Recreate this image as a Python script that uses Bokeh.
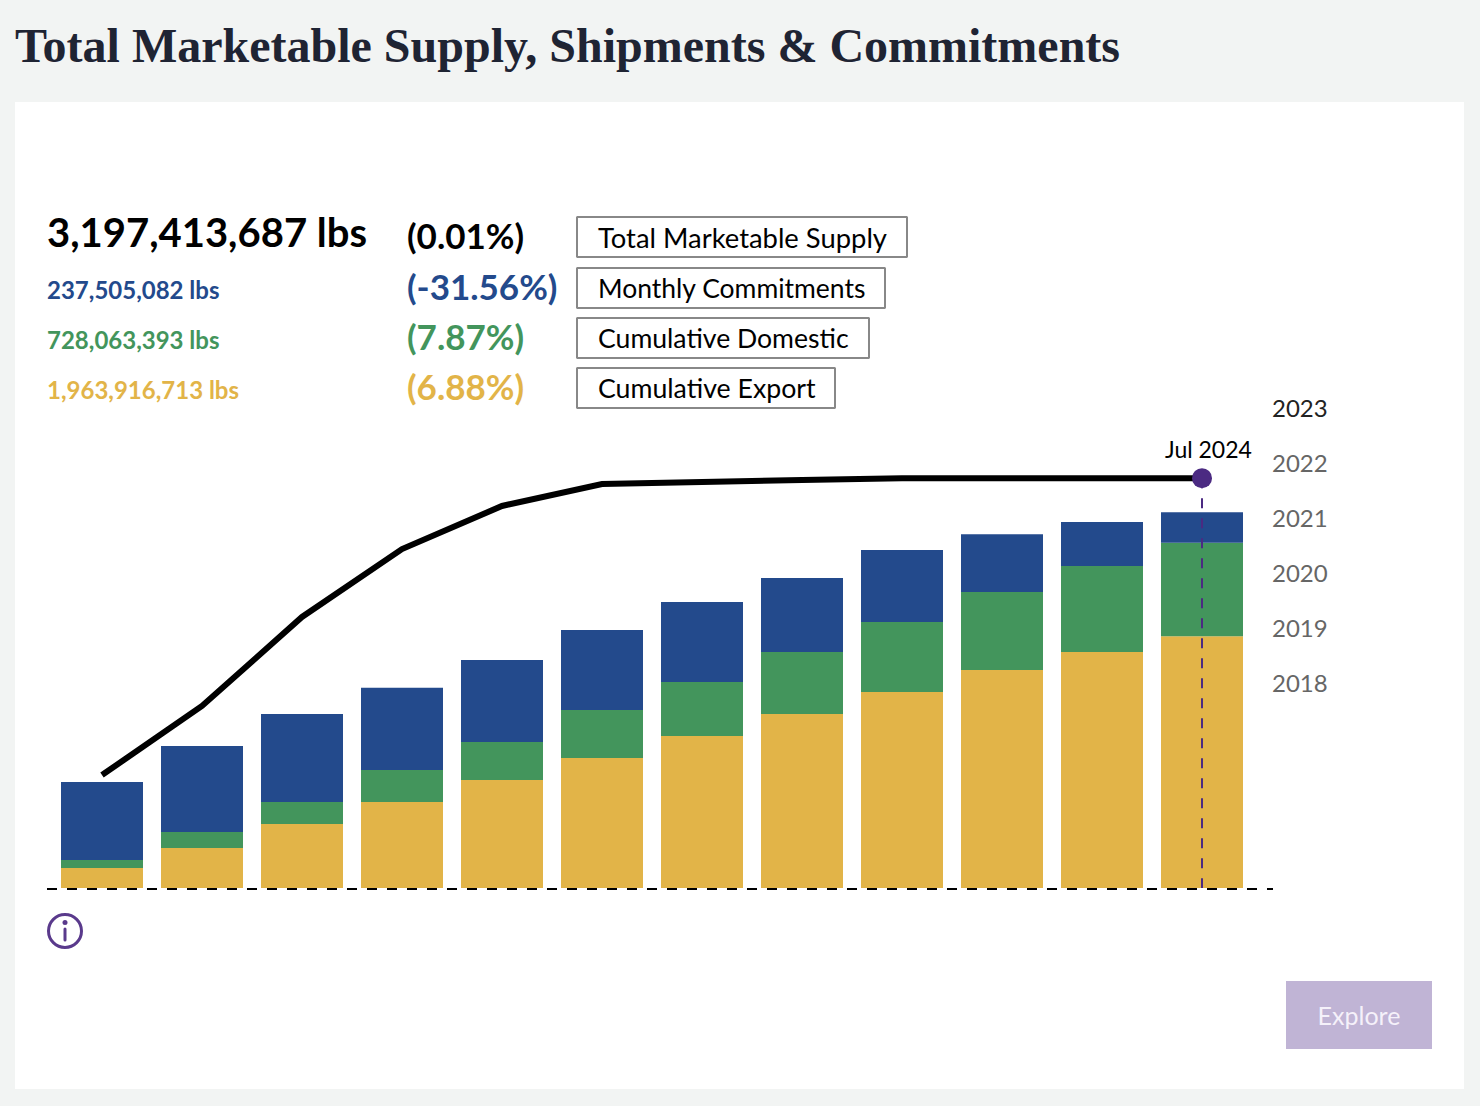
from bokeh.embed import file_html
from bokeh.models import Label, Range1d
from bokeh.plotting import figure
from bokeh.resources import INLINE

# ---- data (million lbs, one bar per month up to Jul 2024) ----
months = ["Aug 2023", "Sep 2023", "Oct 2023", "Nov 2023", "Dec 2023", "Jan 2024",
          "Feb 2024", "Mar 2024", "Apr 2024", "May 2024", "Jun 2024", "Jul 2024"]
export = [156, 312, 499, 671, 842, 1014, 1186, 1357, 1529, 1700, 1841, 1964]
domestic = [62, 125, 172, 250, 296, 374, 421, 484, 546, 608, 671, 728]
commitments = [608, 671, 686, 640, 640, 624, 624, 577, 562, 452, 343, 238]
supply = [881, 1420, 2114, 2644, 2980, 3151, 3167, 3182, 3196, 3197, 3197, 3197]
years = ["2023", "2022", "2021", "2020", "2019", "2018"]
title = "Total Marketable Supply, Shipments & Commitments"
summary_values = ["3,197,413,687 lbs", "237,505,082 lbs", "728,063,393 lbs", "1,963,916,713 lbs"]
summary_pcts = ["(0.01%)", "(-31.56%)", "(7.87%)", "(6.88%)"]
summary_names = ["Total Marketable Supply", "Monthly Commitments", "Cumulative Domestic", "Cumulative Export"]

# ---- styles ----
BLUE, GREEN, YELLOW, PURPLE = "#234a8c", "#43955c", "#e2b448", "#4b2a82"
PAGE_BG = "#f2f4f3"
SANS = "Lato"
SERIF = "Liberation Serif"

W, H = 1480, 1106
LB_PER_PX = 7.8
OFF = 0.5  # half-pixel alignment
x_of = lambda px: (px - 102) / 100
y_of = lambda py: (888 - py) * LB_PER_PX

p = figure(width=W, height=H, output_backend="svg", toolbar_location=None,
           x_range=Range1d(x_of(OFF), x_of(W + OFF)), y_range=Range1d(y_of(H + OFF), y_of(OFF)),
           x_axis_type=None, y_axis_type=None, min_border=0, outline_line_color=None,
           background_fill_color=PAGE_BG, border_fill_color=PAGE_BG)
p.grid.visible = False
# page-pixel coordinate system for the surrounding layout
p.extra_x_ranges["px"] = Range1d(OFF, W + OFF)
p.extra_y_ranges["px"] = Range1d(H + OFF, OFF)
PX = dict(x_range_name="px", y_range_name="px")


def text(s, x, y, size, color="#000000", style="normal", font=SANS, align="left"):
    p.add_layout(Label(x=x, y=y, text=s, text_font=font, text_font_size=f"{size}px",
                       text_color=color, text_font_style=style, text_align=align,
                       text_baseline="middle", **PX))


# panel
p.quad(left=[15], right=[1464], top=[102], bottom=[1089], fill_color="#ffffff", line_color=None, **PX)
text(title, 15, 45, 48, "#1f2433", "bold", SERIF)

# bars
xs = list(range(len(months)))
bottom2 = [a + b for a, b in zip(export, domestic)]
top3 = [a + b for a, b in zip(bottom2, commitments)]
p.vbar(x=xs, width=0.82, bottom=0, top=export, fill_color=YELLOW, line_color=None)
p.vbar(x=xs, width=0.82, bottom=export, top=bottom2, fill_color=GREEN, line_color=None)
p.vbar(x=xs, width=0.82, bottom=bottom2, top=top3, fill_color=BLUE, line_color=None)

# baseline, marker, supply line
p.line([47, 1273], [889, 889], line_color="#000000", line_width=2, line_dash="10 10", **PX)
p.line([xs[-1], xs[-1]], [supply[-1], 0], line_color=PURPLE, line_width=2, line_dash="10 10")
p.line(xs, supply, line_color="#000000", line_width=6, line_join="miter")
p.scatter([xs[-1]], [supply[-1]], size=20, fill_color=PURPLE, line_color=None)

# summary rows
row_y = [237, 288, 338, 388]
colors = ["#000000", BLUE, GREEN, YELLOW]
box_right = [907, 885, 869, 835]
name_sizes = [27.4, 26.5, 26.6, 26.7]
for i in range(4):
    big = i == 0
    text(summary_values[i], 47, 232 if big else row_y[i] + 1, 40 if big else 24, colors[i], "bold")
    text(summary_pcts[i], 407, row_y[i] - 2, 35, colors[i], "bold")
    p.quad(left=[577], right=[box_right[i]], top=[row_y[i] - 20], bottom=[row_y[i] + 20],
           fill_color="#ffffff", line_color="#888888", line_width=2, **PX)
    text(summary_names[i], 598, row_y[i], name_sizes[i])

# year list
for i, yr in enumerate(years):
    text(yr, 1272, 408 + 55 * i, 24, "#222222" if i == 0 else "#666666")
text(months[-1], 1165, 449, 23)

# info icon
p.scatter([65], [931], size=33, fill_color=None, line_color="#5a3a8c", line_width=3, **PX)
p.scatter([65], [922.5], size=5, fill_color="#5a3a8c", line_color=None, **PX)
p.line([65, 65], [929, 940], line_color="#5a3a8c", line_width=3, line_cap="round", **PX)

# button
p.quad(left=[1286], right=[1432], top=[981], bottom=[1049], fill_color="#c0b4d5", line_color=None, **PX)
text("Explore", 1359, 1015, 25, "#f5f1fa", "normal", SANS, "center")

TEMPLATE = """{% block postamble %}<style>html,body{margin:0;padding:0;background:#f2f4f3;overflow:hidden}</style>{% endblock %}
"""
open("out.html", "w").write(file_html(p, INLINE, template=TEMPLATE))
